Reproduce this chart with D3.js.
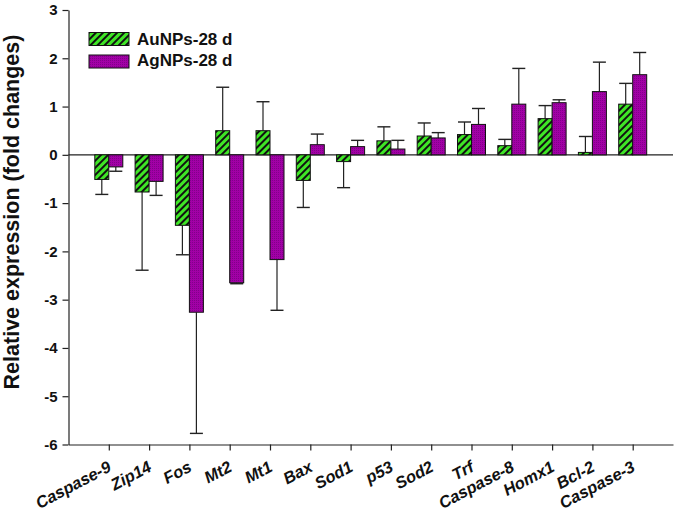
<!DOCTYPE html>
<html>
<head>
<meta charset="utf-8">
<script src="https://cdn.jsdelivr.net/npm/d3@7"></script>
<style>
  body { margin: 0; background: #fff; }
  text { font-family: Arial, "Liberation Sans", sans-serif; }
</style>
</head>
<body>
<div id="chart"></div>
<script>
// Data
const genes = ["Caspase-9", "Zip14", "Fos", "Mt2", "Mt1", "Bax", "Sod1", "p53",
               "Sod2", "Trf", "Caspase-8", "Homx1", "Bcl-2", "Caspase-3"];
const auValues = [-0.51, -0.77, -1.46, 0.50, 0.50, -0.53, -0.14, 0.29, 0.39, 0.42, 0.19, 0.75, 0.05, 1.05];
const auErrors = [0.31, 1.62, 0.61, 0.90, 0.60, 0.56, 0.54, 0.29, 0.27, 0.26, 0.13, 0.27, 0.33, 0.43];
const agValues = [-0.25, -0.55, -3.26, -2.65, -2.17, 0.21, 0.17, 0.12, 0.35, 0.63, 1.05, 1.08, 1.31, 1.66];
const agErrors = [0.09, 0.29, 2.51, 0.02, 1.05, 0.22, 0.13, 0.18, 0.11, 0.33, 0.74, 0.06, 0.61, 0.46];
const seriesNames = ["AuNPs-28 d", "AgNPs-28 d"];
const yTicks = [-6, -5, -4, -3, -2, -1, 0, 1, 2, 3];

const width = 675, height = 514;
const plot = {left: 68.5, right: 673, top: 10, bottom: 444.5};
const barW = 14;

const svg = d3.select("#chart")
    .append("svg")
    .attr("width", width)
    .attr("height", height);

// Patterns for the two series
const defs = svg.append("defs");
const hatch = defs.append("pattern")
    .attr("id", "hatch")
    .attr("patternUnits", "userSpaceOnUse")
    .attr("width", 5).attr("height", 5)
    .attr("patternTransform", "rotate(45)");
hatch.append("rect").attr("width", 5).attr("height", 5).attr("fill", "#3fe626");
hatch.append("rect").attr("x", 0).attr("width", 2).attr("height", 5).attr("fill", "#111");

const dots = defs.append("pattern")
    .attr("id", "dots")
    .attr("patternUnits", "userSpaceOnUse")
    .attr("width", 2).attr("height", 2);
dots.append("rect").attr("width", 2).attr("height", 2).attr("fill", "#a200a6");
dots.append("rect").attr("width", 1).attr("height", 1).attr("fill", "#82008a");

const fills = ["url(#hatch)", "url(#dots)"];

// Scales
const x = d3.scalePoint()
    .domain(genes)
    .range([plot.left, plot.right])
    .padding(1);
const y = d3.scaleLinear()
    .domain([-6, 3])
    .range([plot.bottom, plot.top]);

// Zero line
svg.append("line")
    .attr("x1", plot.left).attr("x2", plot.right)
    .attr("y1", y(0)).attr("y2", y(0))
    .attr("stroke", "#222").attr("stroke-width", 1.2);

// Bars and error bars
const series = [
  {values: auValues, errors: auErrors, offset: -barW, fill: fills[0]},
  {values: agValues, errors: agErrors, offset: 0, fill: fills[1]}
];

series.forEach(s => {
  const rows = genes.map((g, i) => ({gene: g, v: s.values[i], e: s.errors[i]}));
  const g = svg.append("g");

  // error bars, drawn away from zero
  const eb = g.selectAll(".err").data(rows).enter().append("g");
  const cx = d => x(d.gene) + s.offset + barW / 2;
  const tip = d => y(d.v + Math.sign(d.v) * d.e);
  eb.append("line")
      .attr("x1", cx).attr("x2", cx)
      .attr("y1", d => y(d.v)).attr("y2", tip)
      .attr("stroke", "#222").attr("stroke-width", 1.2);
  eb.append("line")
      .attr("x1", d => cx(d) - 6.5).attr("x2", d => cx(d) + 6.5)
      .attr("y1", tip).attr("y2", tip)
      .attr("stroke", "#222").attr("stroke-width", 1.4);

  g.selectAll(".bar").data(rows).enter().append("rect")
      .attr("x", d => x(d.gene) + s.offset)
      .attr("width", barW)
      .attr("y", d => Math.min(y(d.v), y(0)))
      .attr("height", d => Math.abs(y(d.v) - y(0)))
      .attr("fill", s.fill)
      .attr("stroke", "#111")
      .attr("stroke-width", 1);
});

// Y axis
const yAxis = svg.append("g")
    .attr("transform", `translate(${plot.left},0)`)
    .call(d3.axisLeft(y).tickValues(yTicks).tickFormat(d => String(d))
      .tickSize(6).tickSizeOuter(0).tickPadding(5));
yAxis.select(".domain").attr("stroke", "#222").attr("stroke-width", 1.2);
yAxis.selectAll(".tick line").attr("stroke", "#222").attr("stroke-width", 1.2);
yAxis.selectAll(".tick text")
    .attr("font-size", 15).attr("font-weight", "bold").attr("fill", "#111")
    .attr("font-family", "Arial, 'Liberation Sans', sans-serif");

// X axis
const xAxis = svg.append("g")
    .attr("transform", `translate(0,${plot.bottom})`)
    .call(d3.axisBottom(x).tickSize(6).tickSizeOuter(0));
xAxis.select(".domain").attr("stroke", "#222").attr("stroke-width", 1.2);
xAxis.selectAll(".tick line").attr("stroke", "#222").attr("stroke-width", 1.2);
xAxis.selectAll(".tick text")
    .attr("font-size", 16.5).attr("font-weight", "bold").attr("font-style", "italic")
    .attr("fill", "#111")
    .attr("font-family", "Arial, 'Liberation Sans', sans-serif")
    .attr("text-anchor", "end")
    .attr("dy", null)
    .attr("y", 0)
    .attr("transform", "translate(3,26) rotate(-28)");

// Y axis title
svg.append("text")
    .attr("transform", `translate(19,${212}) rotate(-90)`)
    .attr("text-anchor", "middle")
    .attr("font-size", 21.5)
    .attr("font-weight", "bold")
    .attr("fill", "#111")
    .text("Relative expression (fold changes)");

// Legend
const legend = svg.append("g");
seriesNames.forEach((name, i) => {
  legend.append("rect")
      .attr("x", 89).attr("y", 32.5 + i * 22.5)
      .attr("width", 40).attr("height", 13)
      .attr("fill", fills[i]).attr("stroke", "#111").attr("stroke-width", 1);
  legend.append("text")
      .attr("x", 137).attr("y", 45 + i * 21)
      .attr("font-size", 17).attr("font-weight", "bold").attr("fill", "#111")
      .text(name);
});
</script>
</body>
</html>
